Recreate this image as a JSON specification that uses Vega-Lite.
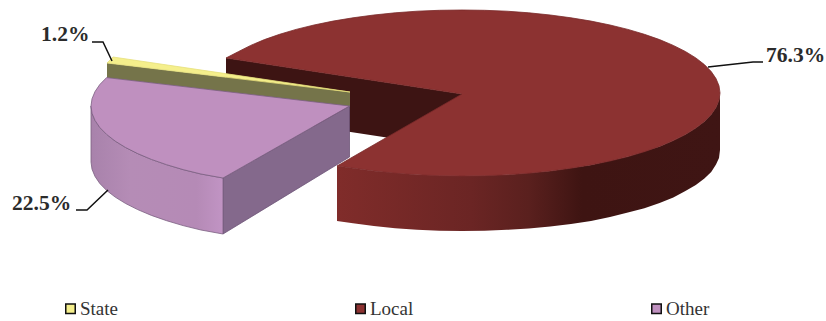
{
  "$schema": "https://vega.github.io/schema/vega-lite/v6.json",
  "width": 826,
  "height": 321,
  "padding": 0,
  "autosize": {"type": "fit", "contains": "padding"},
  "background": "white",
  "view": {"stroke": null},
  "config": {"font": "Liberation Serif"},
  "resolve": {"scale": {"fill": "independent"}, "legend": {"fill": "independent"}},
  "datasets": {
    "walls": [
      {"face": "inner", "seq": 1, "x": 226, "y": 58},
      {"face": "inner", "seq": 2, "x": 462, "y": 94},
      {"face": "inner", "seq": 3, "x": 462, "y": 149},
      {"face": "inner", "seq": 4, "x": 226, "y": 113},

      {"face": "localFront", "seq": 1, "x": 720, "y": 93},
      {"face": "localFront", "seq": 2, "x": 719, "y": 100.2},
      {"face": "localFront", "seq": 3, "x": 716, "y": 107.4},
      {"face": "localFront", "seq": 4, "x": 711.2, "y": 114.5},
      {"face": "localFront", "seq": 5, "x": 704.4, "y": 121.4},
      {"face": "localFront", "seq": 6, "x": 695.8, "y": 128.1},
      {"face": "localFront", "seq": 7, "x": 685.4, "y": 134.5},
      {"face": "localFront", "seq": 8, "x": 673.3, "y": 140.6},
      {"face": "localFront", "seq": 9, "x": 659.6, "y": 146.4},
      {"face": "localFront", "seq": 10, "x": 627.9, "y": 156.6},
      {"face": "localFront", "seq": 11, "x": 591, "y": 164.9},
      {"face": "localFront", "seq": 12, "x": 550.2, "y": 171},
      {"face": "localFront", "seq": 13, "x": 506.9, "y": 174.8},
      {"face": "localFront", "seq": 14, "x": 462, "y": 176},
      {"face": "localFront", "seq": 15, "x": 417.1, "y": 174.8},
      {"face": "localFront", "seq": 16, "x": 373.8, "y": 171},
      {"face": "localFront", "seq": 17, "x": 337, "y": 166},
      {"face": "localFront", "seq": 18, "x": 337, "y": 221},
      {"face": "localFront", "seq": 19, "x": 353, "y": 223.2},
      {"face": "localFront", "seq": 20, "x": 373.8, "y": 226},
      {"face": "localFront", "seq": 21, "x": 395.2, "y": 228.2},
      {"face": "localFront", "seq": 22, "x": 417.1, "y": 229.8},
      {"face": "localFront", "seq": 23, "x": 439.5, "y": 230.7},
      {"face": "localFront", "seq": 24, "x": 462, "y": 231},
      {"face": "localFront", "seq": 25, "x": 484.5, "y": 230.8},
      {"face": "localFront", "seq": 26, "x": 506.9, "y": 229.8},
      {"face": "localFront", "seq": 27, "x": 528.8, "y": 228.6},
      {"face": "localFront", "seq": 28, "x": 550.2, "y": 226.5},
      {"face": "localFront", "seq": 29, "x": 571, "y": 224},
      {"face": "localFront", "seq": 30, "x": 591, "y": 220.9},
      {"face": "localFront", "seq": 31, "x": 610, "y": 217},
      {"face": "localFront", "seq": 32, "x": 627.9, "y": 212.6},
      {"face": "localFront", "seq": 33, "x": 644.4, "y": 208.2},
      {"face": "localFront", "seq": 34, "x": 659.6, "y": 203},
      {"face": "localFront", "seq": 35, "x": 673.3, "y": 197.5},
      {"face": "localFront", "seq": 36, "x": 685.4, "y": 191},
      {"face": "localFront", "seq": 37, "x": 695.8, "y": 185},
      {"face": "localFront", "seq": 38, "x": 704.4, "y": 178.4},
      {"face": "localFront", "seq": 39, "x": 711.2, "y": 172},
      {"face": "localFront", "seq": 40, "x": 716, "y": 164.4},
      {"face": "localFront", "seq": 41, "x": 719, "y": 158},
      {"face": "localFront", "seq": 42, "x": 720, "y": 150},

      {"face": "stateWall", "seq": 1, "x": 107, "y": 63},
      {"face": "stateWall", "seq": 2, "x": 350, "y": 92},
      {"face": "stateWall", "seq": 3, "x": 350, "y": 107},
      {"face": "stateWall", "seq": 4, "x": 107, "y": 78},

      {"face": "otherSide", "seq": 1, "x": 223, "y": 178},
      {"face": "otherSide", "seq": 2, "x": 349.5, "y": 106},
      {"face": "otherSide", "seq": 3, "x": 349.5, "y": 157},
      {"face": "otherSide", "seq": 4, "x": 223, "y": 234},
      {"face": "otherSide", "seq": 5, "x": 223, "y": 178},

      {"face": "otherFront", "seq": 1, "x": 91, "y": 106},
      {"face": "otherFront", "seq": 2, "x": 92, "y": 113.2},
      {"face": "otherFront", "seq": 3, "x": 95, "y": 120.4},
      {"face": "otherFront", "seq": 4, "x": 99.8, "y": 127.5},
      {"face": "otherFront", "seq": 5, "x": 106.6, "y": 134.4},
      {"face": "otherFront", "seq": 6, "x": 115.2, "y": 141.1},
      {"face": "otherFront", "seq": 7, "x": 125.6, "y": 147.5},
      {"face": "otherFront", "seq": 8, "x": 137.7, "y": 153.6},
      {"face": "otherFront", "seq": 9, "x": 151.4, "y": 159.4},
      {"face": "otherFront", "seq": 10, "x": 166.6, "y": 164.7},
      {"face": "otherFront", "seq": 11, "x": 183.1, "y": 169.6},
      {"face": "otherFront", "seq": 12, "x": 201, "y": 174},
      {"face": "otherFront", "seq": 13, "x": 223, "y": 178},
      {"face": "otherFront", "seq": 14, "x": 223, "y": 234},
      {"face": "otherFront", "seq": 15, "x": 201, "y": 230},
      {"face": "otherFront", "seq": 16, "x": 183.1, "y": 225.6},
      {"face": "otherFront", "seq": 17, "x": 166.6, "y": 220.7},
      {"face": "otherFront", "seq": 18, "x": 151.4, "y": 215.4},
      {"face": "otherFront", "seq": 19, "x": 137.7, "y": 209.6},
      {"face": "otherFront", "seq": 20, "x": 125.6, "y": 203.5},
      {"face": "otherFront", "seq": 21, "x": 115.2, "y": 197.1},
      {"face": "otherFront", "seq": 22, "x": 106.6, "y": 190.4},
      {"face": "otherFront", "seq": 23, "x": 99.8, "y": 183.5},
      {"face": "otherFront", "seq": 24, "x": 95, "y": 176.4},
      {"face": "otherFront", "seq": 25, "x": 92, "y": 169.2},
      {"face": "otherFront", "seq": 26, "x": 91, "y": 162},
      {"face": "otherFront", "seq": 27, "x": 91, "y": 106}
    ],
    "tops": [
      {"series": "Local", "seq": 1, "x": 226, "y": 58},
      {"series": "Local", "seq": 2, "x": 238.6, "y": 51.5},
      {"series": "Local", "seq": 3, "x": 250.7, "y": 45.4},
      {"series": "Local", "seq": 4, "x": 264.4, "y": 39.6},
      {"series": "Local", "seq": 5, "x": 279.6, "y": 34.3},
      {"series": "Local", "seq": 6, "x": 296.1, "y": 29.4},
      {"series": "Local", "seq": 7, "x": 314, "y": 25},
      {"series": "Local", "seq": 8, "x": 333, "y": 21.1},
      {"series": "Local", "seq": 9, "x": 353, "y": 17.8},
      {"series": "Local", "seq": 10, "x": 373.8, "y": 15},
      {"series": "Local", "seq": 11, "x": 395.2, "y": 12.8},
      {"series": "Local", "seq": 12, "x": 417.1, "y": 11.2},
      {"series": "Local", "seq": 13, "x": 439.5, "y": 10.3},
      {"series": "Local", "seq": 14, "x": 462, "y": 10},
      {"series": "Local", "seq": 15, "x": 484.5, "y": 10.3},
      {"series": "Local", "seq": 16, "x": 506.9, "y": 11.2},
      {"series": "Local", "seq": 17, "x": 528.8, "y": 12.8},
      {"series": "Local", "seq": 18, "x": 550.2, "y": 15},
      {"series": "Local", "seq": 19, "x": 571, "y": 17.8},
      {"series": "Local", "seq": 20, "x": 591, "y": 21.1},
      {"series": "Local", "seq": 21, "x": 610, "y": 25},
      {"series": "Local", "seq": 22, "x": 627.9, "y": 29.4},
      {"series": "Local", "seq": 23, "x": 644.4, "y": 34.3},
      {"series": "Local", "seq": 24, "x": 659.6, "y": 39.6},
      {"series": "Local", "seq": 25, "x": 673.3, "y": 45.4},
      {"series": "Local", "seq": 26, "x": 685.4, "y": 51.5},
      {"series": "Local", "seq": 27, "x": 695.8, "y": 57.9},
      {"series": "Local", "seq": 28, "x": 704.4, "y": 64.6},
      {"series": "Local", "seq": 29, "x": 711.2, "y": 71.5},
      {"series": "Local", "seq": 30, "x": 716, "y": 78.6},
      {"series": "Local", "seq": 31, "x": 719, "y": 85.8},
      {"series": "Local", "seq": 32, "x": 720, "y": 93},
      {"series": "Local", "seq": 33, "x": 719, "y": 100.2},
      {"series": "Local", "seq": 34, "x": 716, "y": 107.4},
      {"series": "Local", "seq": 35, "x": 711.2, "y": 114.5},
      {"series": "Local", "seq": 36, "x": 704.4, "y": 121.4},
      {"series": "Local", "seq": 37, "x": 695.8, "y": 128.1},
      {"series": "Local", "seq": 38, "x": 685.4, "y": 134.5},
      {"series": "Local", "seq": 39, "x": 673.3, "y": 140.6},
      {"series": "Local", "seq": 40, "x": 659.6, "y": 146.4},
      {"series": "Local", "seq": 41, "x": 644.4, "y": 151.7},
      {"series": "Local", "seq": 42, "x": 627.9, "y": 156.6},
      {"series": "Local", "seq": 43, "x": 610, "y": 161},
      {"series": "Local", "seq": 44, "x": 591, "y": 164.9},
      {"series": "Local", "seq": 45, "x": 571, "y": 168.2},
      {"series": "Local", "seq": 46, "x": 550.2, "y": 171},
      {"series": "Local", "seq": 47, "x": 528.8, "y": 173.2},
      {"series": "Local", "seq": 48, "x": 506.9, "y": 174.8},
      {"series": "Local", "seq": 49, "x": 484.5, "y": 175.7},
      {"series": "Local", "seq": 50, "x": 462, "y": 176},
      {"series": "Local", "seq": 51, "x": 439.5, "y": 175.7},
      {"series": "Local", "seq": 52, "x": 417.1, "y": 174.8},
      {"series": "Local", "seq": 53, "x": 395.2, "y": 173.2},
      {"series": "Local", "seq": 54, "x": 373.8, "y": 171},
      {"series": "Local", "seq": 55, "x": 353, "y": 168.2},
      {"series": "Local", "seq": 56, "x": 337, "y": 166},
      {"series": "Local", "seq": 57, "x": 462, "y": 94},
      {"series": "Local", "seq": 58, "x": 226, "y": 58},

      {"series": "State", "seq": 1, "x": 107, "y": 63},
      {"series": "State", "seq": 2, "x": 113, "y": 57},
      {"series": "State", "seq": 3, "x": 350, "y": 92},
      {"series": "State", "seq": 4, "x": 107, "y": 63},

      {"series": "Other", "seq": 1, "x": 349.5, "y": 106},
      {"series": "Other", "seq": 2, "x": 106.6, "y": 77.6},
      {"series": "Other", "seq": 3, "x": 99.8, "y": 84.5},
      {"series": "Other", "seq": 4, "x": 95, "y": 91.6},
      {"series": "Other", "seq": 5, "x": 92, "y": 98.8},
      {"series": "Other", "seq": 6, "x": 91, "y": 106},
      {"series": "Other", "seq": 7, "x": 92, "y": 113.2},
      {"series": "Other", "seq": 8, "x": 95, "y": 120.4},
      {"series": "Other", "seq": 9, "x": 99.8, "y": 127.5},
      {"series": "Other", "seq": 10, "x": 106.6, "y": 134.4},
      {"series": "Other", "seq": 11, "x": 115.2, "y": 141.1},
      {"series": "Other", "seq": 12, "x": 125.6, "y": 147.5},
      {"series": "Other", "seq": 13, "x": 137.7, "y": 153.6},
      {"series": "Other", "seq": 14, "x": 151.4, "y": 159.4},
      {"series": "Other", "seq": 15, "x": 166.6, "y": 164.7},
      {"series": "Other", "seq": 16, "x": 183.1, "y": 169.6},
      {"series": "Other", "seq": 17, "x": 201, "y": 174},
      {"series": "Other", "seq": 18, "x": 223, "y": 178},
      {"series": "Other", "seq": 19, "x": 349.5, "y": 106}
    ],
    "leaders": [
      {"series": "State", "seq": 1, "x": 92, "y": 42},
      {"series": "State", "seq": 2, "x": 103, "y": 42},
      {"series": "State", "seq": 3, "x": 112, "y": 61},
      {"series": "Other", "seq": 1, "x": 76, "y": 210},
      {"series": "Other", "seq": 2, "x": 87, "y": 210},
      {"series": "Other", "seq": 3, "x": 108, "y": 190},
      {"series": "Local", "seq": 1, "x": 708, "y": 67},
      {"series": "Local", "seq": 2, "x": 753, "y": 62},
      {"series": "Local", "seq": 3, "x": 763, "y": 62}
    ],
    "shares": [
      {"series": "State", "label": "1.2%", "x": 41, "y": 41},
      {"series": "Local", "label": "76.3%", "x": 766, "y": 62},
      {"series": "Other", "label": "22.5%", "x": 12, "y": 210}
    ]
  },
  "encoding": {
    "x": {"field": "x", "type": "quantitative", "axis": null, "scale": {"domain": [0, 826], "nice": false, "zero": false}},
    "y": {"field": "y", "type": "quantitative", "axis": null, "scale": {"domain": [321, 0], "nice": false, "zero": false}}
  },
  "layer": [
    {
      "data": {"name": "walls"},
      "transform": [{"filter": "datum.face === 'inner'"}],
      "mark": {"type": "line", "fill": "#3d1413", "stroke": null},
      "encoding": {"order": {"field": "seq"}}
    },
    {
      "data": {"name": "walls"},
      "transform": [{"filter": "datum.face === 'localFront'"}],
      "mark": {
        "type": "line",
        "stroke": null,
        "fill": {
          "gradient": "linear",
          "x1": 0, "x2": 1, "y1": 0, "y2": 0,
          "stops": [
            {"offset": 0, "color": "#802c2a"},
            {"offset": 0.35, "color": "#6b2524"},
            {"offset": 0.5, "color": "#5a201e"},
            {"offset": 0.64, "color": "#3e1412"},
            {"offset": 1, "color": "#3f1514"}
          ]
        }
      },
      "encoding": {"order": {"field": "seq"}}
    },
    {
      "data": {"name": "walls"},
      "transform": [{"filter": "datum.face === 'stateWall'"}],
      "mark": {"type": "line", "fill": "#75744a", "stroke": null},
      "encoding": {"order": {"field": "seq"}}
    },
    {
      "data": {"name": "walls"},
      "transform": [{"filter": "datum.face === 'otherSide'"}],
      "mark": {"type": "line", "fill": "#84698c", "stroke": "#6f5678", "strokeWidth": 0.8},
      "encoding": {"order": {"field": "seq"}}
    },
    {
      "data": {"name": "walls"},
      "transform": [{"filter": "datum.face === 'otherFront'"}],
      "mark": {
        "type": "line",
        "stroke": "#7b5f82",
        "strokeWidth": 0.8,
        "fill": {
          "gradient": "linear",
          "x1": 0, "x2": 1, "y1": 0, "y2": 0,
          "stops": [
            {"offset": 0, "color": "#a882ab"},
            {"offset": 0.3, "color": "#b58cb6"},
            {"offset": 0.8, "color": "#b58ab6"},
            {"offset": 1, "color": "#c194c4"}
          ]
        }
      },
      "encoding": {"order": {"field": "seq"}}
    },
    {
      "data": {"name": "tops"},
      "mark": {"type": "line", "filled": true, "stroke": null},
      "encoding": {
        "order": {"field": "seq"},
        "fill": {
          "field": "series",
          "type": "nominal",
          "legend": null,
          "scale": {"domain": ["State", "Local", "Other"], "range": ["#f5ef8c", "#8c3231", "#bf90bf"]}
        }
      }
    },
    {
      "data": {"name": "tops"},
      "mark": {"type": "line", "strokeWidth": 0.8},
      "encoding": {
        "order": {"field": "seq"},
        "stroke": {
          "field": "series",
          "type": "nominal",
          "legend": null,
          "scale": {"domain": ["State", "Local", "Other"], "range": ["#e6df7c", "#7a2a29", "#7b5f82"]}
        }
      }
    },
    {
      "data": {"name": "leaders"},
      "mark": {"type": "line", "stroke": "#111111", "strokeWidth": 1.5},
      "encoding": {"detail": {"field": "series"}, "order": {"field": "seq"}}
    },
    {
      "data": {"name": "shares"},
      "mark": {"type": "point", "filled": true, "shape": "square", "size": 0, "stroke": "#111111", "strokeWidth": 2, "opacity": 1},
      "encoding": {
        "fill": {
          "field": "series",
          "type": "nominal",
          "scale": {"domain": ["State", "Local", "Other"], "range": ["#f5ef8c", "#8c3231", "#bf90bf"]},
          "legend": {
            "title": null,
            "orient": "none",
            "legendX": 61,
            "legendY": 299,
            "direction": "horizontal",
            "columns": 3,
            "columnPadding": 233,
            "symbolType": "square",
            "symbolSize": 90,
            "labelFont": "Liberation Serif",
            "labelFontSize": 19,
            "labelColor": "#333333",
            "labelOffset": 0,
            "padding": 0
          }
        }
      }
    },
    {
      "data": {"name": "shares"},
      "mark": {"type": "text", "align": "left", "baseline": "alphabetic", "font": "Liberation Serif", "fontWeight": "bold", "fontSize": 21.5, "color": "#2b2b2b"},
      "encoding": {"text": {"field": "label"}}
    }
  ]
}
